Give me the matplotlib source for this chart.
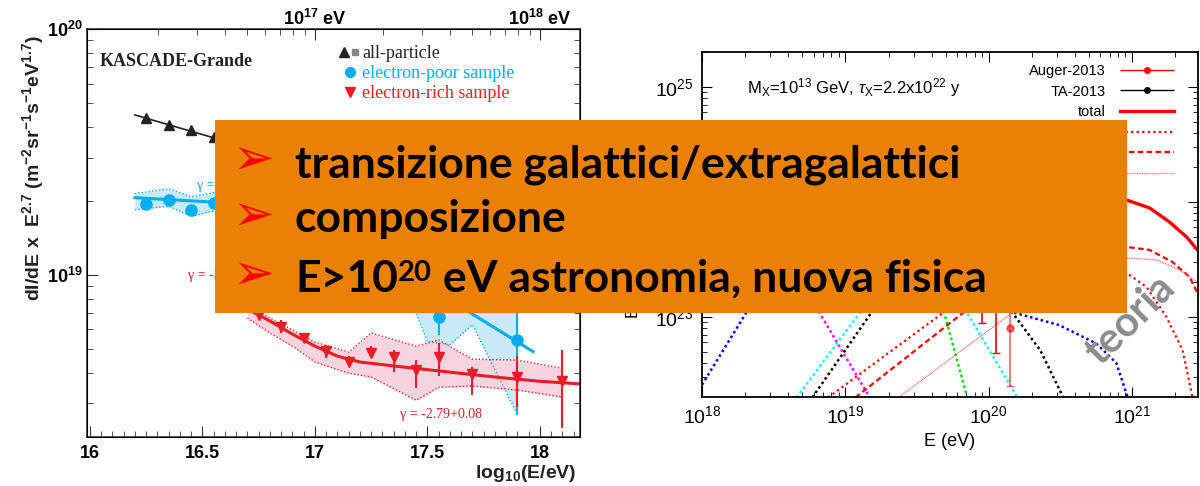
import numpy as np
import matplotlib
matplotlib.use("Agg")
import matplotlib.pyplot as plt
from matplotlib.patches import Rectangle
from matplotlib.lines import Line2D
from matplotlib.text import Annotation
from matplotlib.legend_handler import HandlerTuple, HandlerErrorbar
from matplotlib.ticker import MultipleLocator, LogLocator, NullFormatter

plt.rcParams["font.family"] = "Liberation Sans"
plt.rcParams["mathtext.fontset"] = "custom"
plt.rcParams["mathtext.rm"] = "Liberation Sans"
plt.rcParams["mathtext.it"] = "Liberation Sans:italic"
plt.rcParams["mathtext.bf"] = "Liberation Sans:bold"

# ---------------- left panel: KASCADE-Grande ----------------
all_x = [16.25, 16.35, 16.45, 16.55]
all_y = [4.34e19, 4.07e19, 3.88e19, 3.64e19]
all_fit_x = [16.2, 16.6]
all_fit_y = [4.47e19, 3.5e19]

poor_x = [16.25, 16.35, 16.45, 16.55, 17.55, 17.9]
poor_y = [1.95e19, 2.02e19, 1.84e19, 1.96e19, 6.74e18, 5.45e18]
poor_lo = [1.91e19, 1.98e19, 1.80e19, 1.92e19, 5.7e18, 2.7e18]
poor_hi = [1.99e19, 2.06e19, 1.88e19, 2.00e19, 8.0e18, 8.5e18]
poor_fit_x = [16.2, 17.1, 17.45, 17.97]
poor_fit_y = [2.06e19, 1.85e19, 9.6e18, 4.87e18]
poor_band_x = [16.2, 16.35, 16.45, 16.55, 17.0, 17.45, 17.5, 17.6, 17.7, 17.9]
poor_band_lo = [1.84e19, 1.90e19, 1.73e19, 1.82e19, 1.5e19, 7.0e18, 5.35e18, 5.2e18, 6.27e18, 2.7e18]
poor_band_hi = [2.14e19, 2.24e19, 2.08e19, 2.16e19, 2.0e19, 1.2e19, 1.15e19, 1.1e19, 1.05e19, 9.0e18]

rich_x = [16.75, 16.85, 16.95, 17.05, 17.15, 17.25, 17.35, 17.45, 17.55, 17.7, 17.9, 18.1]
rich_y = [6.87e18, 6.13e18, 5.53e18, 4.90e18, 4.42e18, 4.81e18, 4.63e18, 4.09e18, 4.63e18, 3.94e18, 3.84e18, 3.69e18]
rich_lo = [6.65e18, 5.80e18, 5.28e18, 4.58e18, 4.21e18, 4.63e18, 4.02e18, 3.46e18, 3.87e18, 3.24e18, 2.89e18, 2.38e18]
rich_hi = [7.10e18, 6.55e18, 5.80e18, 5.18e18, 4.67e18, 5.13e18, 4.94e18, 4.50e18, 5.28e18, 4.21e18, 4.67e18, 4.94e18]
rich_fit_x = [16.6, 16.7, 16.8, 16.9, 17.0, 17.1, 17.2, 17.4, 17.6, 17.8, 18.0, 18.2]
rich_fit_y = [8.21e18, 7.26e18, 6.49e18, 5.74e18, 5.13e18, 4.67e18, 4.42e18, 4.21e18, 4.02e18, 3.84e18, 3.69e18, 3.59e18]
rich_band_x = [16.7, 16.8, 16.9, 17.0, 17.15, 17.25, 17.45, 17.55, 17.7, 17.9, 18.1]
rich_band_lo = [6.67e18, 5.80e18, 5.13e18, 4.42e18, 3.98e18, 3.84e18, 3.09e18, 3.49e18, 3.53e18, 3.40e18, 3.18e18]
rich_band_hi = [7.55e18, 6.67e18, 5.97e18, 5.33e18, 4.85e18, 5.80e18, 5.13e18, 5.43e18, 4.54e18, 4.50e18, 4.17e18]

# ---------------- right panel: SHDM model (log10 E, log10 E^3 J) ----------------
curve_blue = ([18.0, 18.31, 18.6, 19.0, 19.5, 19.9, 20.17, 20.49, 20.75, 20.89, 20.97],
              [22.41, 23.04, 23.4, 23.5, 23.35, 23.15, 23.04, 22.93, 22.77, 22.6, 22.30])
curve_magenta = ([18.0, 18.4, 18.82, 19.17], [24.3, 23.85, 23.035, 22.30])
curve_green = ([18.0, 18.6, 19.2, 19.5, 19.69, 19.85], [23.3, 23.55, 23.7, 23.6, 23.035, 22.30])
curve_cyan = ([18.66, 19.10, 19.35, 19.5, 19.65, 19.85, 20.2], [22.30, 23.035, 23.4, 23.5, 23.45, 23.035, 22.30])
curve_black = ([18.77, 19.18, 19.5, 19.8, 20.0, 20.17, 20.36, 20.52], [22.30, 23.035, 23.5, 23.65, 23.45, 23.03, 22.71, 22.30])
curve_red_a = ([18.88, 19.68, 20.0, 20.4, 20.7, 20.962, 21.101, 21.24, 21.352, 21.422],
               [22.30, 23.035, 23.3, 23.55, 23.55, 23.383, 23.261, 23.0, 22.713, 22.30])
curve_red_b = ([19.07, 19.82, 20.2, 20.6, 20.962, 21.122, 21.282, 21.401, 21.456],
               [22.30, 23.035, 23.35, 23.58, 23.609, 23.583, 23.478, 23.348, 23.209])
curve_red_c = ([19.37, 20.2, 20.6, 20.962, 21.171, 21.331, 21.456], [22.30, 23.07, 23.35, 23.513, 23.496, 23.409, 23.304])
curve_total = ([18.0, 18.5, 19.0, 19.5, 20.0, 20.5, 20.962, 21.122, 21.261, 21.38, 21.456],
               [24.45, 24.3, 24.25, 24.2, 24.15, 24.08, 24.017, 23.948, 23.826, 23.696, 23.583])

auger_E = [19.95, 20.05, 20.15]
auger_F = [1.8e23, 1.4e23, 8.0e22]
auger_lo = [8.9e22, 4.9e22, 2.5e22]
auger_hi = [2.6e23, 2.0e23, 1.4e23]
ta_E = [19.75, 19.85, 19.95]
ta_F = [4.5e23, 3.5e23, 2.6e23]
ta_lo = [3.7e23, 2.8e23, 2.0e23]
ta_hi = [5.3e23, 4.2e23, 3.2e23]

box_lines = ["transizione galattici/extragalattici", "composizione"]

W, H = 1200, 486
RED = "#EC1C24"
BLUE = "#00AEEF"

fig = plt.figure(figsize=(12, 4.86), dpi=100)

# ================= left panel =================
ax1 = fig.add_axes([87 / W, 1 - 437 / H, 493 / W, 408 / H])
ax1.set_yscale("log")
ax1.set_xlim(15.987, 18.178)
ax1.set_ylim(2.19e18, 1e20)

ax1.fill_between(poor_band_x, poor_band_lo, poor_band_hi, color="#C9EAF8", lw=0)
ax1.plot(poor_band_x, poor_band_lo, ls=(0, (1, 1.5)), color=BLUE, lw=1)
ax1.plot(poor_band_x, poor_band_hi, ls=(0, (1, 1.5)), color=BLUE, lw=1)
ax1.fill_between(rich_band_x, rich_band_lo, rich_band_hi, color="#F8D4E0", lw=0)
ax1.plot(rich_band_x, rich_band_lo, ls=(0, (1, 1.5)), color=RED, lw=1)
ax1.plot(rich_band_x, rich_band_hi, ls=(0, (1, 1.5)), color=RED, lw=1)

ax1.plot(all_fit_x, all_fit_y, color="#222222", lw=1.2)
ax1.plot(poor_fit_x, poor_fit_y, color=BLUE, lw=2.2)
ax1.plot(rich_fit_x, rich_fit_y, color=RED, lw=2.2)

ax1.plot(all_x, all_y, "^", color="#222222", ms=7)
ax1.errorbar(poor_x, poor_y, yerr=[np.subtract(poor_y, poor_lo), np.subtract(poor_hi, poor_y)],
             fmt="o", color=BLUE, ms=8, elinewidth=1.5, capsize=0)
ax1.errorbar(rich_x, rich_y, yerr=[np.subtract(rich_y, rich_lo), np.subtract(rich_hi, rich_y)],
             fmt="v", color=RED, ms=7, elinewidth=1.5, capsize=0)

ax1.set_xticks([16, 16.5, 17, 17.5, 18], labels=["16", "16.5", "17", "17.5", "18"], fontweight="bold")
ax1.xaxis.set_minor_locator(MultipleLocator(0.05))
ax1.set_yticks([1e19, 1e20], labels=[r"$\mathbf{10^{19}}$", r"$\mathbf{10^{20}}$"])
ax1.yaxis.set_minor_locator(LogLocator(subs=np.arange(2, 10)))
ax1.yaxis.set_minor_formatter(NullFormatter())
ax1.tick_params(which="both", direction="in", right=True, top=False, labelsize=13, color="#333333")
ax1.tick_params(axis="x", which="major", length=8, pad=6)
ax1.tick_params(axis="y", which="major", length=8, pad=3)
ax1.tick_params(which="minor", length=4)
for s in ax1.spines.values():
    s.set_linewidth(1.2)
    s.set_color("#333333")

axt = ax1.twiny()
axt.set_xscale("log")
axt.set_xlim(10 ** 15.987, 10 ** 18.178)
axt.set_xticks([1e17, 1e18], labels=[r"$\mathbf{10^{17}}$ eV", r"$\mathbf{10^{18}}$ eV"], fontweight="bold")
axt.xaxis.set_minor_locator(LogLocator(subs=np.arange(2, 10)))
axt.xaxis.set_minor_formatter(NullFormatter())
axt.tick_params(which="both", direction="in", labelsize=13, pad=0, color="#333333")
axt.tick_params(which="major", length=8)
axt.tick_params(which="minor", length=4)

tri = Line2D([], [], marker="^", color="#222222", ls="none", ms=7)
sq = Line2D([], [], marker="s", color="#888888", ls="none", ms=4)
circ = Line2D([], [], marker="o", color=BLUE, ls="none", ms=7)
vtri = Line2D([], [], marker="v", color=RED, ls="none", ms=7)
leg1 = ax1.legend([(tri, sq), circ, vtri], ["all-particle", "electron-poor sample", "electron-rich sample"],
                  handler_map={tuple: HandlerTuple(ndivide=None, pad=0)},
                  loc="upper left", bbox_to_anchor=(339 / W, 1 - 45 / H), bbox_transform=fig.transFigure,
                  frameon=False, prop={"family": "Liberation Serif", "size": 13},
                  handlelength=1.2, handletextpad=0.1, labelspacing=0.18, borderpad=0, borderaxespad=0)
for t, c in zip(leg1.get_texts(), ["#222222", BLUE, RED]):
    t.set_color(c)

fig.text(100 / W, 1 - 61 / H, "KASCADE-Grande", family="Liberation Serif", weight="bold", size=13,
         va="center", color="#222222")
fig.text(197 / W, 1 - 185 / H, "γ = -2.76", family="Liberation Serif", size=10, color=BLUE, va="center")
fig.text(188 / W, 1 - 275 / H, "γ = -3.25", family="Liberation Serif", size=10, color=RED, va="center")
fig.text(400 / W, 1 - 414 / H, "γ = -2.79+0.08", family="Liberation Serif", size=10, color=RED, va="center")

fig.text(33 / W, 1 - 168 / H,
         r"dI/dE x  E$^{\mathbf{2.7}}$ (m$^{\mathbf{-2}}$sr$^{\mathbf{-1}}$s$^{\mathbf{-1}}$eV$^{\mathbf{1.7}}$)",
         rotation=90, ha="center", va="center", fontsize=14, weight="bold", color="#222222")
fig.text(576 / W, 1 - 473 / H, r"log$_{\mathbf{10}}$(E/eV)", ha="right", va="center", fontsize=14,
         weight="bold", color="#222222")

# ================= right panel =================
ax2 = fig.add_axes([702 / W, 1 - 397 / H, 496 / W, 345 / H])
ax2.set_xscale("log")
ax2.set_yscale("log")
ax2.set_xlim(1e18, 10 ** 21.46)
ax2.set_ylim(10 ** 22.304, 10 ** 25.304)


def draw(curve, **kw):
    e, f = curve
    return ax2.plot(np.power(10.0, e), np.power(10.0, f), **kw)[0]


draw(curve_blue, color="#0000FF", ls=(0, (1, 1.2)), lw=1.8)
draw(curve_magenta, color="#FF00FF", ls=(0, (1, 1.2)), lw=1.8)
draw(curve_green, color="#00DD00", ls=(0, (1, 1.2)), lw=1.8)
draw(curve_cyan, color="#00FFFF", ls=(0, (1, 1.2)), lw=1.8)
draw(curve_black, color="#000000", ls=(0, (1, 1.2)), lw=1.8)
line_a = draw(curve_red_a, color="#FF0000", ls=(0, (1, 1.5)), lw=1.6)
line_b = draw(curve_red_b, color="#FF0000", ls=(0, (2.5, 1.5)), lw=1.6)
line_c = draw(curve_red_c, color="#FF5555", ls=(0, (0.6, 0.6)), lw=1.0)
line_tot = draw(curve_total, color="#FF0000", lw=2.4)

ax2.errorbar(np.power(10.0, ta_E), ta_F, yerr=[np.subtract(ta_F, ta_lo), np.subtract(ta_hi, ta_F)],
             fmt="o", color="black", ms=4, elinewidth=1, capsize=3)
ax2.errorbar(np.power(10.0, auger_E[:2]), auger_F[:2],
             yerr=[np.subtract(auger_F[:2], auger_lo[:2]), np.subtract(auger_hi[:2], auger_F[:2])],
             fmt="o", color="red", ms=5, elinewidth=1.2, capsize=3)
ax2.errorbar(np.power(10.0, auger_E[2:]), auger_F[2:],
             yerr=[np.subtract(auger_F[2:], auger_lo[2:]), np.subtract(auger_hi[2:], auger_F[2:])],
             fmt="o", color="red", ms=5, elinewidth=1.2, capsize=3, alpha=0.6)

aug_h = ax2.errorbar([], [], xerr=[], fmt="o", color="red", ms=4, elinewidth=1, capsize=3)
ta_h = ax2.errorbar([], [], xerr=[], fmt="o", color="black", ms=4, elinewidth=1, capsize=3)
ax2.legend([aug_h, ta_h, line_tot, line_a, line_b, line_c], ["Auger-2013", "TA-2013", "total", "", "", ""],
           handler_map={aug_h: HandlerErrorbar(xerr_size=1.85), ta_h: HandlerErrorbar(xerr_size=1.85)},
           loc="upper right", bbox_to_anchor=(1174 / W, 1 - 64 / H), bbox_transform=fig.transFigure,
           frameon=False, markerfirst=False, fontsize=10.5, handlelength=3.7, handletextpad=1.0,
           labelspacing=0.45, borderpad=0, borderaxespad=0)

ax2.xaxis.set_minor_locator(LogLocator(subs=np.arange(2, 10), numticks=20))
ax2.yaxis.set_minor_locator(LogLocator(subs=np.arange(2, 10), numticks=20))
ax2.xaxis.set_minor_formatter(NullFormatter())
ax2.yaxis.set_minor_formatter(NullFormatter())
ax2.tick_params(which="both", direction="in", top=True, right=True, labelsize=14)
ax2.tick_params(which="major", length=7, pad=6)
ax2.tick_params(which="minor", length=3.5)
for s in ax2.spines.values():
    s.set_linewidth(1.3)
ax2.set_xlabel("E (eV)", fontsize=13, labelpad=4)
ax2.set_ylabel(r"E$^3$ J(E) (eV$^2$ m$^{-2}$ s$^{-1}$ sr$^{-1}$)", fontsize=12, labelpad=8)
fig.text(747 / W, 1 - 88 / H, r"M$_\mathrm{X}$=10$^{13}$ GeV, $\tau_\mathrm{X}$=2.2x10$^{22}$ y",
         fontsize=12, va="center")

# ================= orange overlay =================
fig.add_artist(Rectangle((215 / W, 1 - 313 / H), 912 / W, 193 / H, transform=fig.transFigure,
                         facecolor="#EA8006", edgecolor="none", zorder=10))
for yc in [160, 216, 275]:
    fig.text(253 / W, 1 - yc / H, "➢", color="#FF0000", fontsize=36, family="DejaVu Sans",
             ha="center", va="center", zorder=11)
box_font = dict(family="Lato", weight="bold", fontsize=32, color="black", zorder=11)
fig.text(295 / W, 1 - 177 / H, box_lines[0], va="baseline", **box_font)
fig.text(295 / W, 1 - 232 / H, box_lines[1], va="baseline", **box_font)
t1 = fig.text(295 / W, 1 - 292 / H, "E>10", va="baseline", **box_font)
t2 = Annotation("20", xy=(1.0, 0.97), xycoords=t1, va="top", ha="left",
                family="Lato", weight="bold", fontsize=21, color="black", zorder=11)
fig.add_artist(t2)
t3 = Annotation(" eV astronomia, nuova fisica", xy=(1.0, 0.0), xycoords=(t2, t1), va="bottom", ha="left",
                **box_font)
fig.add_artist(t3)

fig.text(1130 / W, 1 - 320 / H, "teoria", rotation=45, rotation_mode="anchor", color="#8C8C8C",
         fontsize=30, family="Lato", weight="bold", ha="center", va="center", zorder=11)

fig.savefig("out.png", dpi=100)
